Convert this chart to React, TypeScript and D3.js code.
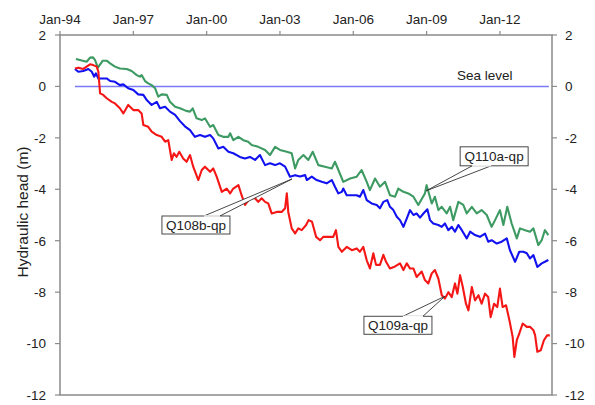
import React from "react";
import * as d3 from "d3";

// ---- data (x = years since Jan-1994, y = hydraulic head in m) ----
const greenT = [0.65,1.09,1.23,1.35,1.43,1.55,1.75,1.91,2.05,2.25,2.45,2.73,2.93,3.14,3.27,3.34,3.48,3.61,3.75,3.89,4.02,4.16,4.37,4.50,4.71,4.91,5.16,5.32,5.43,5.59,5.80,5.93,6.14,6.27,6.48,6.68,6.89,6.96,7.09,7.30,7.50,7.70,7.84,8.11,8.39,8.59,8.80,9.00,9.28,9.48,9.62,9.75,9.96,10.16,10.34,10.57,10.84,11.12,11.25,11.39,11.59,11.87,12.14,12.34,12.55,12.68,12.89,13.09,13.30,13.50,13.71,13.84,14.05,14.25,14.46,14.66,14.93,15.00,15.21,15.34,15.48,15.62,15.82,15.96,16.09,16.30,16.50,16.64,16.85,17.05,17.25,17.46,17.66,17.80,18.00,18.14,18.30,18.48,18.69,18.82,19.03,19.23,19.37,19.57,19.71,19.84,19.98];
const greenV = [1.07,0.96,1.12,1.13,1.03,0.73,1.0,1.0,0.9,0.77,0.7,0.68,0.6,0.44,0.38,0.44,0.21,0.12,0.05,-0.07,-0.4,-0.31,-0.33,-0.6,-0.79,-0.85,-0.95,-0.98,-0.85,-1.24,-1.31,-1.24,-1.57,-1.5,-1.89,-1.96,-1.96,-1.82,-2.09,-1.96,-2.09,-2.15,-2.28,-2.35,-2.47,-2.67,-2.35,-2.47,-2.54,-2.6,-3.19,-2.86,-2.67,-2.86,-2.54,-3.06,-3.12,-3.19,-2.93,-3.25,-3.71,-3.58,-3.51,-3.25,-3.71,-4.03,-3.58,-3.9,-3.71,-4.23,-4.29,-3.97,-4.1,-4.16,-4.29,-4.61,-4.16,-3.84,-4.55,-4.29,-4.81,-4.68,-4.94,-4.68,-5.2,-4.49,-4.61,-4.94,-4.68,-4.94,-4.81,-5.0,-5.46,-5.2,-4.81,-5.39,-4.68,-5.33,-5.91,-5.52,-5.59,-5.65,-5.52,-6.17,-5.98,-5.59,-5.78];

const blueT = [0.61,0.75,0.95,1.16,1.30,1.40,1.47,1.57,1.71,1.91,2.05,2.25,2.45,2.59,2.79,3.00,3.20,3.41,3.55,3.75,3.96,4.09,4.30,4.50,4.71,4.91,5.11,5.32,5.52,5.73,5.93,6.14,6.27,6.48,6.68,6.89,7.09,7.36,7.57,7.77,7.98,8.18,8.39,8.59,8.80,9.00,9.21,9.41,9.62,9.82,10.03,10.10,10.30,10.50,10.71,10.91,11.12,11.25,11.39,11.53,11.59,11.73,11.93,12.14,12.27,12.41,12.55,12.75,12.96,13.09,13.23,13.39,13.50,13.64,13.78,13.91,14.05,14.19,14.32,14.46,14.59,14.73,14.87,15.03,15.14,15.27,15.48,15.62,15.75,15.89,16.03,16.16,16.30,16.44,16.64,16.78,16.98,17.18,17.39,17.52,17.66,17.87,18.07,18.28,18.41,18.62,18.79,18.96,19.10,19.23,19.37,19.53,19.71,19.84,19.98];
const blueV = [0.68,0.57,0.6,0.68,0.57,0.38,0.51,0.31,0.31,0.31,0.21,0.18,0.05,0.08,-0.07,-0.14,-0.31,-0.33,-0.53,-0.72,-0.6,-0.85,-0.79,-0.98,-1.11,-1.35,-1.55,-1.7,-1.96,-1.89,-1.96,-1.89,-2.02,-2.41,-2.35,-2.54,-2.6,-2.74,-2.8,-2.74,-2.86,-2.67,-3.06,-2.99,-3.06,-2.99,-3.12,-3.51,-3.45,-3.5,-3.45,-3.64,-3.51,-3.64,-3.71,-3.77,-3.64,-3.9,-4.16,-4.1,-3.97,-4.23,-4.23,-4.23,-4.29,-4.03,-4.42,-4.55,-4.61,-4.74,-4.49,-4.42,-4.68,-4.81,-5.07,-5.2,-5.46,-5.13,-4.81,-5.0,-4.94,-5.1,-4.94,-4.78,-5.2,-5.33,-5.39,-5.46,-5.33,-5.59,-5.46,-5.65,-5.39,-5.59,-5.91,-5.65,-5.78,-5.85,-5.72,-6.04,-5.98,-6.11,-6.04,-5.91,-6.37,-6.82,-6.43,-6.43,-6.49,-6.69,-6.56,-7.02,-6.88,-6.82,-6.75];

const redT = [0.61,0.75,0.95,1.09,1.23,1.36,1.50,1.57,1.64,1.77,1.91,2.12,2.25,2.45,2.59,2.79,3.00,3.20,3.34,3.41,3.61,3.75,3.96,4.16,4.30,4.43,4.57,4.66,4.77,4.88,5.04,5.18,5.32,5.45,5.66,5.80,5.93,6.14,6.27,6.41,6.62,6.82,6.96,7.09,7.30,7.43,7.57,7.77,7.98,8.11,8.25,8.39,8.52,8.66,8.87,9.07,9.21,9.28,9.34,9.48,9.62,9.75,9.89,10.07,10.17,10.31,10.48,10.64,10.77,10.98,11.18,11.29,11.39,11.53,11.73,11.94,12.14,12.27,12.41,12.55,12.68,12.82,12.93,13.09,13.23,13.34,13.50,13.71,13.91,14.05,14.19,14.32,14.46,14.59,14.80,14.93,15.07,15.21,15.34,15.48,15.62,15.75,15.89,16.03,16.16,16.26,16.37,16.48,16.61,16.71,16.85,16.98,17.12,17.25,17.39,17.52,17.62,17.76,17.89,18.00,18.11,18.25,18.39,18.52,18.59,18.69,18.79,18.93,19.10,19.23,19.37,19.44,19.53,19.67,19.80,19.93,20.04];
const redV = [0.7,0.73,0.68,0.77,0.86,0.83,0.77,0.57,-0.27,-0.33,-0.46,-0.6,-0.66,-0.85,-1.05,-0.72,-0.92,-0.92,-1.05,-1.5,-1.57,-1.76,-1.89,-1.96,-2.15,-2.09,-2.86,-2.6,-2.74,-2.54,-2.8,-2.93,-2.67,-3.12,-3.64,-3.25,-3.12,-3.32,-3.19,-3.51,-4.1,-3.97,-4.16,-3.97,-3.84,-4.23,-4.61,-4.35,-4.35,-4.49,-4.35,-4.49,-4.55,-4.94,-4.88,-4.88,-4.74,-4.16,-4.88,-5.52,-5.72,-5.52,-5.59,-5.39,-5.2,-5.26,-5.85,-5.98,-5.85,-5.85,-5.85,-5.59,-6.24,-6.43,-6.24,-6.37,-6.3,-6.43,-6.24,-6.76,-7.08,-6.49,-6.94,-6.94,-6.55,-6.82,-7.08,-7.0,-6.88,-7.14,-6.88,-7.08,-7.08,-7.41,-7.2,-7.53,-7.66,-7.27,-7.14,-7.47,-8.12,-8.25,-8.0,-8.19,-7.66,-8.06,-7.34,-7.8,-8.45,-8.71,-7.8,-8.32,-8.12,-8.45,-8.06,-8.19,-8.97,-8.45,-8.58,-7.86,-8.58,-8.51,-9.1,-9.74,-10.52,-9.87,-9.61,-9.22,-9.35,-9.35,-9.48,-9.68,-10.32,-10.26,-9.87,-9.68,-9.68];

const xTickYears = [1994, 1997, 2000, 2003, 2006, 2009, 2012];
const xTickLabels = ["Jan-94", "Jan-97", "Jan-00", "Jan-03", "Jan-06", "Jan-09", "Jan-12"];
const yTicks = [2, 0, -2, -4, -6, -8, -10, -12];
const seaLevel = 0;
const seaLevelSpan = [1994.61, 2014.0];

const seriesNames = ["Q110a-qp", "Q108b-qp", "Q109a-qp"];
const seriesColors = ["#3d9a62", "#1212f0", "#f51616"];
// annotation anchors (year, head)
const annoYear = [2008.98, 2003.49, 2009.75];
const annoHead = [-4.06, -3.6, -8.16];

const W = 595, H = 405;
const M = { left: 60, right: 552, top: 35, bottom: 395 };

export default function App() {
  const x = d3.scaleLinear().domain([1994, 2014.13]).range([M.left, M.right]);
  const y = d3.scaleLinear().domain([-12, 2]).range([M.bottom, M.top]);
  const line = d3.line<[number, number]>().x(d => x(1994 + d[0])).y(d => y(d[1]));

  const series = [
    { t: greenT, v: greenV },
    { t: blueT, v: blueV },
    { t: redT, v: redV },
  ];
  const font = "'Liberation Sans', Arial, sans-serif";
  const axisColor = "#8a8a8a";
  const fs = 13.5;

  // box placement relative to anchor (pixel offsets); wedge base on box edge
  const boxes = [
    { dx: 34, dy: -44, w: 68, h: 19, base: "bottom", b1: 12, b2: 31 },
    { dx: -130, dy: 37, w: 68, h: 18, base: "top", b1: 42, b2: 58 },
    { dx: -81, dy: 20, w: 68, h: 18, base: "top", b1: 39, b2: 59 },
  ];

  return (
    <div style={{ position: "absolute", left: 0, top: 0 }}>
      <svg width={W} height={H} style={{ display: "block", background: "#fff" }}>
        {/* frame */}
        <rect x={M.left} y={M.top} width={M.right - M.left} height={M.bottom - M.top}
          fill="none" stroke={axisColor} strokeWidth={1.5} />
        {/* top x ticks */}
        {xTickYears.map((yr, i) => (
          <g key={yr}>
            <line x1={x(yr)} x2={x(yr)} y1={M.top} y2={M.top - 4} stroke={axisColor} strokeWidth={1.2} />
            <text x={x(yr)} y={24} textAnchor="middle" fontFamily={font} fontSize={fs} fill="#222">{xTickLabels[i]}</text>
          </g>
        ))}
        {/* y ticks both sides */}
        {yTicks.map(v => (
          <g key={v}>
            <line x1={M.left - 5} x2={M.left} y1={y(v)} y2={y(v)} stroke={axisColor} strokeWidth={1.2} />
            <line x1={M.right} x2={M.right + 5} y1={y(v)} y2={y(v)} stroke={axisColor} strokeWidth={1.2} />
            <text x={46} y={y(v)} dy="0.36em" textAnchor="end" fontFamily={font} fontSize={fs} fill="#222">{v}</text>
            <text x={565} y={y(v)} dy="0.36em" textAnchor="start" fontFamily={font} fontSize={fs} fill="#222">{v}</text>
          </g>
        ))}
        {/* y title */}
        <text transform={`translate(22,${(M.top + M.bottom) / 2 - 3}) rotate(-90)`} textAnchor="middle"
          dy="0.36em" fontFamily={font} fontSize={15.5} fill="#222">Hydraulic head (m)</text>
        {/* sea level */}
        <line x1={x(seaLevelSpan[0])} x2={x(seaLevelSpan[1])} y1={y(seaLevel)} y2={y(seaLevel)}
          stroke="#7a7af5" strokeWidth={1.5} />
        <text x={x(seaLevelSpan[1]) - 64} y={y(seaLevel) - 6} textAnchor="middle" fontFamily={font} fontSize={fs} fill="#222">Sea level</text>
        {/* series */}
        {series.map((s, i) => (
          <path key={i} d={line(s.t.map((t, j) => [t, s.v[j]] as [number, number])) || ""}
            fill="none" stroke={seriesColors[i]} strokeWidth={2.1} strokeLinejoin="round" />
        ))}
        {/* callouts */}
        {seriesNames.map((name, i) => {
          const ax = x(annoYear[i]), ay = y(annoHead[i]);
          const b = boxes[i];
          const bx = ax + b.dx, by = ay + b.dy;
          const baseY = b.base === "bottom" ? by + b.h : by;
          return (
            <g key={name}>
              <path d={`M${bx + b.b1},${baseY} L${ax},${ay} L${bx + b.b2},${baseY}`} fill="#fff" stroke="#333" strokeWidth={0.9} />
              <rect x={bx} y={by} width={b.w} height={b.h} fill="#fff" stroke="#333" strokeWidth={0.9} />
              <line x1={bx + b.b1} x2={bx + b.b2} y1={baseY} y2={baseY} stroke="#fff" strokeWidth={1.4} />
              <text x={bx + b.w / 2} y={by + b.h / 2} dy="0.36em" textAnchor="middle" fontFamily={font} fontSize={fs} fill="#222">{name}</text>
            </g>
          );
        })}
      </svg>
    </div>
  );
}
